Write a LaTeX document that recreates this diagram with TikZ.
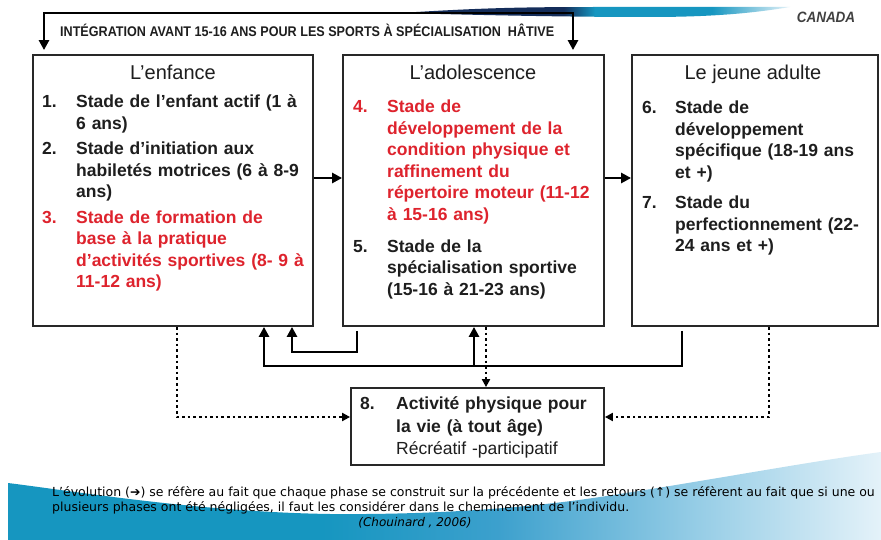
\documentclass[tikz,border=0pt]{standalone}
\usepackage{fontspec}
\setmainfont{Liberation Sans}
\newfontfamily\titlefont[FakeStretch=0.9]{Liberation Sans}
\newfontfamily\notefont{DejaVu Sans}
\usetikzlibrary{arrows.meta}

\definecolor{txt}{RGB}{30,30,30}
\definecolor{boxline}{RGB}{40,40,40}
\definecolor{redtxt}{RGB}{222,35,45}
\definecolor{bandA}{RGB}{22,150,192}
\definecolor{bandB}{RGB}{60,160,205}
\definecolor{bandC}{RGB}{150,205,230}
\definecolor{bandD}{RGB}{228,242,249}
\definecolor{navy}{RGB}{20,45,90}

\pgfdeclarehorizontalshading{bottomband}{100bp}{color(0bp)=(bandA); color(25bp)=(bandA); color(43bp)=(bandA); color(53bp)=(bandB); color(64.5bp)=(bandC); color(75bp)=(bandD); color(100bp)=(bandD)}
\pgfdeclarehorizontalshading{topband}{100bp}{color(0bp)=(navy); color(25bp)=(navy); color(46bp)=(navy); color(50bp)=(bandA); color(65bp)=(bandA); color(75bp)=(bandD); color(100bp)=(bandD)}

\newcommand{\itm}[3][34pt]{\par\hangindent=#1\hangafter=1\noindent\makebox[#1][l]{#2}#3\par}
\newcommand{\ritm}[2]{\itm{\textcolor{redtxt}{#1}}{{\color{redtxt}#2}}}

\begin{document}
\begin{tikzpicture}[x=1pt,y=-1pt,
  stagebox/.style={draw=boxline, line width=1.8pt, inner sep=0pt, rectangle},
  heading/.style={font=\fontsize{20}{24}\selectfont, text=txt, inner sep=0pt, anchor=base},
  stagetext/.style={anchor=north west, inner sep=0pt, text width=#1, align=left,
     font=\bfseries\fontsize{17.5}{21.5}\selectfont, text=txt},
  arr/.style={line width=2.6pt, draw=black, -{Triangle[length=10pt,width=10pt]}},
  dotarr/.style={line width=2.6pt, draw=black, dash pattern=on 2.6pt off 3pt, -{Triangle[length=8pt,width=8pt]}},
  note/.style={font=\notefont\fontsize{12.5}{15}\selectfont, inner sep=0pt, text=black}
]
\useasboundingbox (0,0) rectangle (881,540);
\fill[white] (0,0) rectangle (881,540);

% background bands
\shade[shading=bottomband] (8,483) .. controls (80,492) and (200,512) .. (330,514)
  .. controls (450,515) and (540,506) .. (600,497)
  .. controls (700,482) and (800,463) .. (881,452) -- (881,540) -- (8,540) -- cycle;
\shade[shading=topband] (400,13) .. controls (480,8) and (520,7) .. (600,7)
  -- (790,7)
  .. controls (760,12) and (720,17) .. (650,17)
  .. controls (560,17) and (480,15) .. (400,13) -- cycle;

% boxes
\node[stagebox, minimum width=280pt, minimum height=271pt] (b1) at (173,190.5) {};
\node[stagebox, minimum width=261pt, minimum height=271pt] (b2) at (473.5,190.5) {};
\node[stagebox, minimum width=246pt, minimum height=271pt] (b3) at (755,190.5) {};
\node[stagebox, minimum width=253pt, minimum height=77pt] (b8) at (477.5,426.5) {};

% headings
\node[heading] (h1) at (173,80) {L’enfance};
\node[heading] (h2) at (473,80) {L’adolescence};
\node[heading] (h3) at (753,80) {Le jeune adulte};

% contents
\node[stagetext=262pt] (t1) at (42,86) {%
\itm{1.}{Stade de l’enfant actif (1 à\newline 6 ans)}\vspace{4pt}
\itm{2.}{Stade d’initiation aux\newline habiletés motrices (6 à 8-9\newline ans)}\vspace{4pt}
\ritm{3.}{Stade de formation de\newline base à la pratique\newline d’activités sportives (8- 9 à\newline 11-12 ans)}};

\node[stagetext=245pt] (t2) at (353,91) {%
\ritm{4.}{Stade de\newline développement de la\newline condition physique et\newline raffinement du\newline répertoire moteur (11-12\newline à 15-16 ans)}\vspace{10.5pt}
\itm{5.}{Stade de la\newline spécialisation sportive\newline (15-16 à 21-23 ans)}};

\node[stagetext=230pt] (t3) at (642,92) {%
\itm[33pt]{6.}{Stade de\newline développement\newline spécifique (18-19 ans\newline et +)}\vspace{9pt}
\itm[33pt]{7.}{Stade du\newline perfectionnement (22-\newline 24 ans et +)}};

\node[stagetext=240pt, font=\bfseries\fontsize{17.5}{22.5}\selectfont] (t8) at (360,387) {%
\itm[36pt]{8.}{Activité physique pour\newline la vie (à tout âge)\newline {\mdseries Récréatif -participatif}}};

% title texts
\node[font=\titlefont\bfseries\fontsize{14}{16}\selectfont, anchor=base west, inner sep=0pt, text=txt] (title) at (60,37)
  {INTÉGRATION AVANT 15-16 ANS POUR LES SPORTS À SPÉCIALISATION\ \ HÂTIVE};
\node[font=\titlefont\bfseries\itshape\fontsize{15}{17}\selectfont, anchor=base, inner sep=0pt, text=txt!85] (canada) at (826,23) {CANADA};

% top bracket
\coordinate (tA) at (44,13);
\coordinate (tB) at (573,13);
\draw[line width=2.6pt, {Triangle[length=10pt,width=10pt]}-{Triangle[length=10pt,width=10pt]}, shorten <=4pt, shorten >=4pt]
  (tA |- b1.north) -- (tA) -- (tB) -- (tB |- b2.north);

% evolution arrows
\draw[arr] ([yshift=12.5pt]b1.east) -- ([yshift=12.5pt]b2.west);
\draw[arr] ([yshift=12.5pt]b2.east) -- ([yshift=12.5pt]b3.west);

% dotted links to box 8
\coordinate (dL) at (177,417);
\coordinate (dR) at (769,417);
\coordinate (dM) at (486,0);
\draw[dotarr] (dL |- b1.south) -- (dL) -- (dL -| b8.west);
\draw[dotarr] (dR |- b3.south) -- (dR) -- (dR -| b8.east);
\draw[dotarr] (dM |- b2.south) -- (dM |- b8.north);

% return arrows
\coordinate (rA) at (357,352);
\coordinate (rB) at (292,352);
\draw[arr, shorten <=4pt] (rA |- b2.south) -- (rA) -- (rB) -- (rB |- b1.south);
\coordinate (rC) at (682,366);
\coordinate (rD) at (264,366);
\draw[arr, shorten <=4pt] (rC |- b3.south) -- (rC) -- (rD) -- (rD |- b1.south);
\coordinate (rE) at (474,366);
\draw[arr] (rE) -- (rE |- b2.south);

% notes
\node[note, anchor=base west] (n1) at (52,496) {L’évolution (➔) se réfère au fait que chaque phase se construit sur la précédente et les retours (↑) se réfèrent au fait que si une ou};
\node[note, anchor=base west] (n2) at (52,511) {plusieurs phases ont été négligées, il faut les considérer dans le cheminement de l’individu.};
\node[note, anchor=base, font=\notefont\itshape\fontsize{12}{14}\selectfont] (n3) at (415,526) {(Chouinard , 2006)};
\end{tikzpicture}
\end{document}
